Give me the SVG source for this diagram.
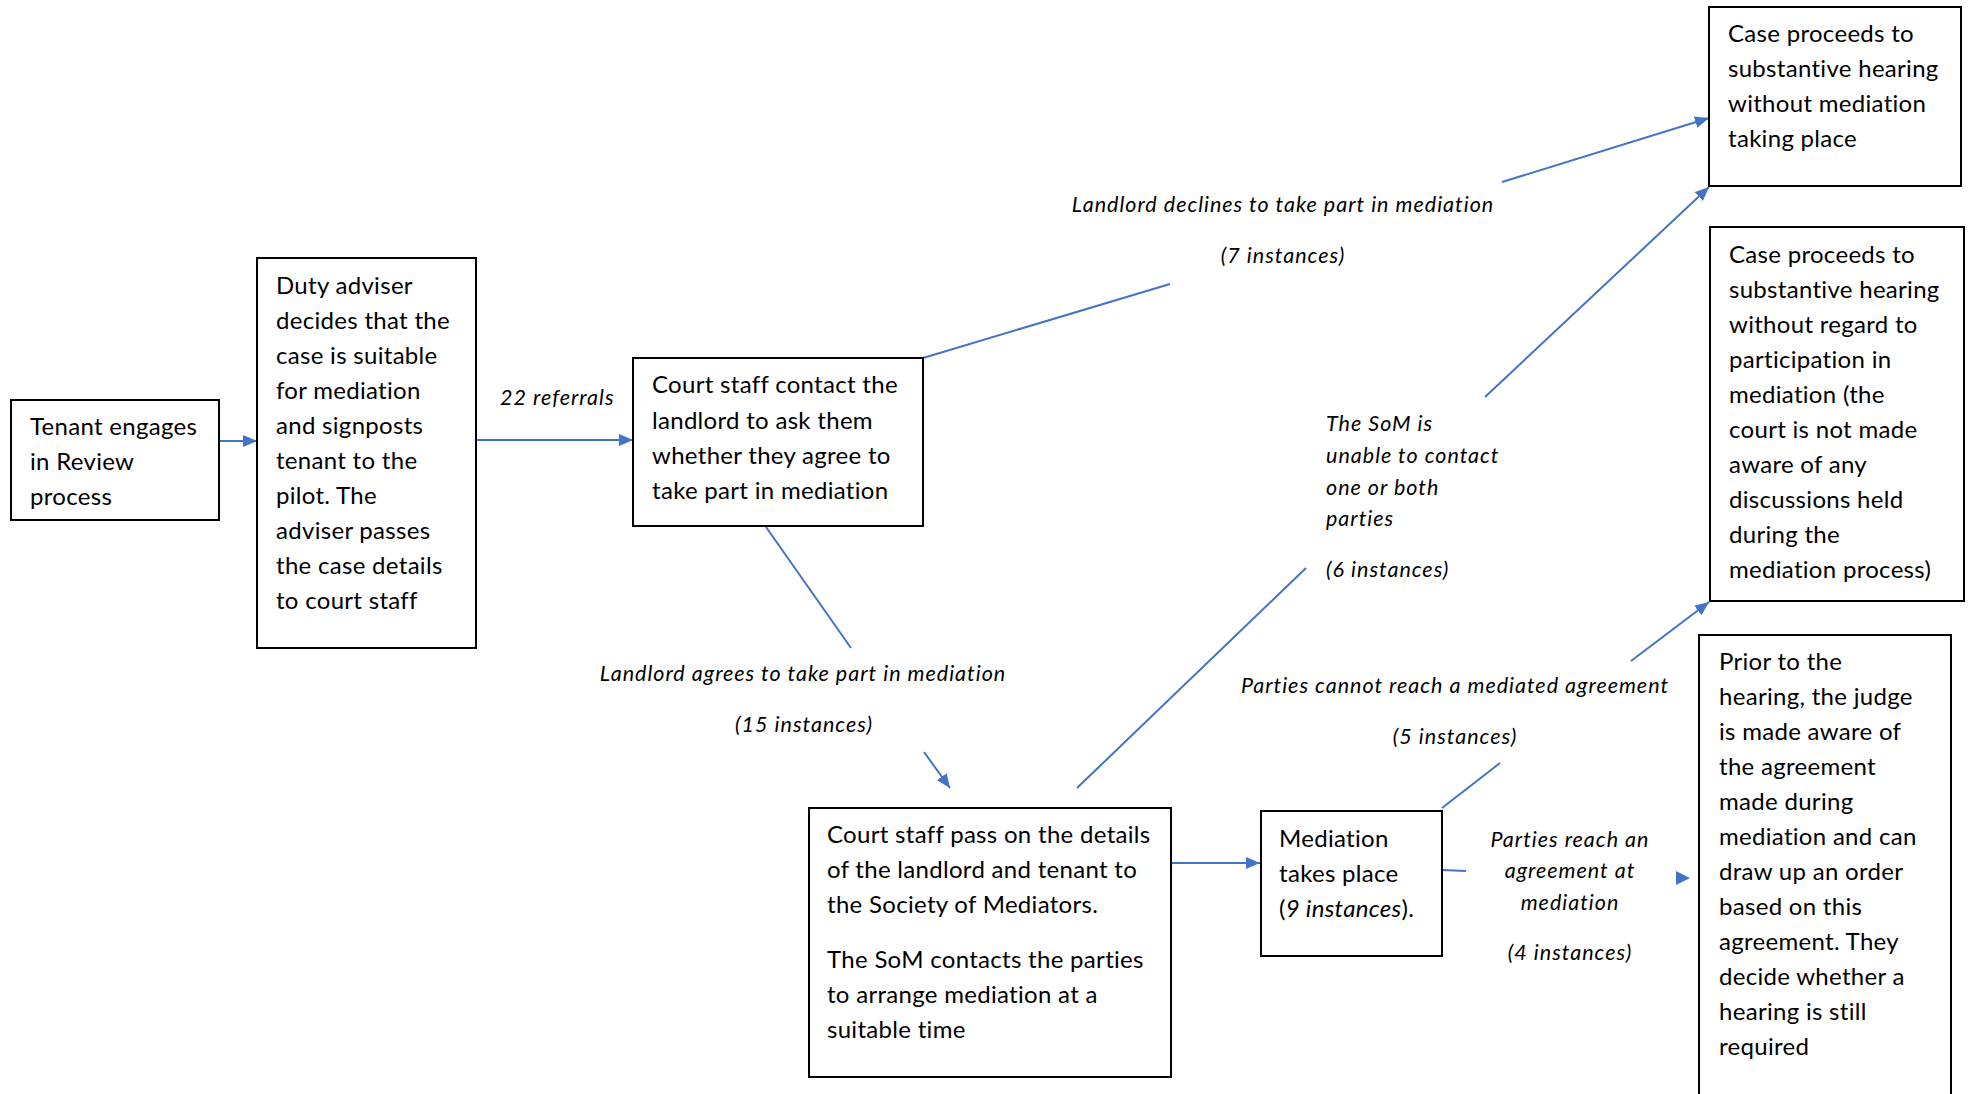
<svg xmlns="http://www.w3.org/2000/svg" width="1973" height="1094" viewBox="0 0 1973 1094">
<style>
.box{fill:#fff;stroke:#000;stroke-width:2}
.t{font-family:Lato,"Liberation Sans",sans-serif;font-size:24px;letter-spacing:0.3px;fill:#000}
.l{font-family:Lato,"Liberation Sans",sans-serif;font-size:21.5px;letter-spacing:1px;font-style:italic;fill:#000}
.c{text-anchor:middle}
.cn line,.cn path{stroke:#4472C4;stroke-width:2;fill:none}
</style>
<defs>
<marker id="ah" markerUnits="userSpaceOnUse" markerWidth="14" markerHeight="12" refX="14" refY="6" orient="auto">
<path d="M0,0 L14,6 L0,12 z" fill="#4472C4"/>
</marker>
</defs>
<rect width="1973" height="1094" fill="#fff"/>
<g id="connectors" class="cn">
<line x1="219" y1="441" x2="257" y2="441" marker-end="url(#ah)"/>
<line x1="476" y1="440" x2="633" y2="440" marker-end="url(#ah)"/>
<line x1="923" y1="358" x2="1170" y2="284"/>
<line x1="1502" y1="182" x2="1709" y2="118" marker-end="url(#ah)"/>
<line x1="766" y1="527" x2="851" y2="648"/>
<line x1="924" y1="752" x2="950" y2="788" marker-end="url(#ah)"/>
<line x1="1077" y1="788" x2="1306" y2="568"/>
<line x1="1485" y1="397" x2="1709" y2="187" marker-end="url(#ah)"/>
<line x1="1171" y1="863" x2="1260" y2="863" marker-end="url(#ah)"/>
<line x1="1442" y1="808" x2="1500" y2="763"/>
<line x1="1631" y1="661" x2="1709" y2="602" marker-end="url(#ah)"/>
<line x1="1442" y1="870" x2="1466" y2="871"/>
<polygon points="1676,871 1690,878 1676,885" fill="#4472C4"/>
</g>
<g id="n-tenant">
<rect class="box" x="11" y="400" width="208" height="120"/>
<text class="t" x="30" y="435">Tenant engages</text>
<text class="t" x="30" y="470">in Review</text>
<text class="t" x="30" y="505">process</text>
</g>
<g id="n-duty">
<rect class="box" x="257" y="258" width="219" height="390"/>
<text class="t" x="276" y="294">Duty adviser</text>
<text class="t" x="276" y="329">decides that the</text>
<text class="t" x="276" y="364">case is suitable</text>
<text class="t" x="276" y="399">for mediation</text>
<text class="t" x="276" y="434">and signposts</text>
<text class="t" x="276" y="469">tenant to the</text>
<text class="t" x="276" y="504">pilot. The</text>
<text class="t" x="276" y="539">adviser passes</text>
<text class="t" x="276" y="574">the case details</text>
<text class="t" x="276" y="609">to court staff</text>
</g>
<g id="l-referrals">
<text class="l" x="500" y="405">22 referrals</text>
</g>
<g id="n-contact">
<rect class="box" x="633" y="358" width="290" height="168"/>
<text class="t" x="652" y="393">Court staff contact the</text>
<text class="t" x="652" y="429">landlord to ask them</text>
<text class="t" x="652" y="464">whether they agree to</text>
<text class="t" x="652" y="499">take part in mediation</text>
</g>
<g id="l-declines">
<text class="l c" x="1283" y="212">Landlord declines to take part in mediation</text>
<text class="l c" x="1283" y="263">(7 instances)</text>
</g>
<g id="n-nomediation">
<rect class="box" x="1709" y="7" width="252" height="179"/>
<text class="t" x="1728" y="42">Case proceeds to</text>
<text class="t" x="1728" y="77">substantive hearing</text>
<text class="t" x="1728" y="112">without mediation</text>
<text class="t" x="1728" y="147">taking place</text>
</g>
<g id="n-noregard">
<rect class="box" x="1710" y="227" width="254" height="374"/>
<text class="t" x="1729" y="263">Case proceeds to</text>
<text class="t" x="1729" y="298">substantive hearing</text>
<text class="t" x="1729" y="333">without regard to</text>
<text class="t" x="1729" y="368">participation in</text>
<text class="t" x="1729" y="403">mediation (the</text>
<text class="t" x="1729" y="438">court is not made</text>
<text class="t" x="1729" y="473">aware of any</text>
<text class="t" x="1729" y="508">discussions held</text>
<text class="t" x="1729" y="543">during the</text>
<text class="t" x="1729" y="578">mediation process)</text>
</g>
<g id="l-unable">
<text class="l" x="1326" y="431">The SoM is</text>
<text class="l" x="1326" y="463">unable to contact</text>
<text class="l" x="1326" y="495">one or both</text>
<text class="l" x="1326" y="526">parties</text>
<text class="l" x="1326" y="577">(6 instances)</text>
</g>
<g id="l-agrees">
<text class="l c" x="803" y="681">Landlord agrees to take part in mediation</text>
<text class="l c" x="804" y="732">(15 instances)</text>
</g>
<g id="n-pass">
<rect class="box" x="809" y="808" width="362" height="269"/>
<text class="t" x="827" y="843">Court staff pass on the details</text>
<text class="t" x="827" y="878">of the landlord and tenant to</text>
<text class="t" x="827" y="913">the Society of Mediators.</text>
<text class="t" x="827" y="968">The SoM contacts the parties</text>
<text class="t" x="827" y="1003">to arrange mediation at a</text>
<text class="t" x="827" y="1038">suitable time</text>
</g>
<g id="n-mediation">
<rect class="box" x="1261" y="811" width="181" height="145"/>
<text class="t" x="1279" y="847">Mediation</text>
<text class="t" x="1279" y="882">takes place</text>
<text class="t" x="1279" y="917">(<tspan font-style="italic">9 instances</tspan>).</text>
</g>
<g id="l-cannot">
<text class="l c" x="1455" y="693">Parties cannot reach a mediated agreement</text>
<text class="l c" x="1455" y="744">(5 instances)</text>
</g>
<g id="l-reach">
<text class="l c" x="1570" y="847">Parties reach an</text>
<text class="l c" x="1570" y="878">agreement at</text>
<text class="l c" x="1570" y="910">mediation</text>
<text class="l c" x="1570" y="960">(4 instances)</text>
</g>
<g id="n-prior">
<rect class="box" x="1699" y="635" width="252" height="480"/>
<text class="t" x="1719" y="670">Prior to the</text>
<text class="t" x="1719" y="705">hearing, the judge</text>
<text class="t" x="1719" y="740">is made aware of</text>
<text class="t" x="1719" y="775">the agreement</text>
<text class="t" x="1719" y="810">made during</text>
<text class="t" x="1719" y="845">mediation and can</text>
<text class="t" x="1719" y="880">draw up an order</text>
<text class="t" x="1719" y="915">based on this</text>
<text class="t" x="1719" y="950">agreement. They</text>
<text class="t" x="1719" y="985">decide whether a</text>
<text class="t" x="1719" y="1020">hearing is still</text>
<text class="t" x="1719" y="1055">required</text>
</g>
</svg>
